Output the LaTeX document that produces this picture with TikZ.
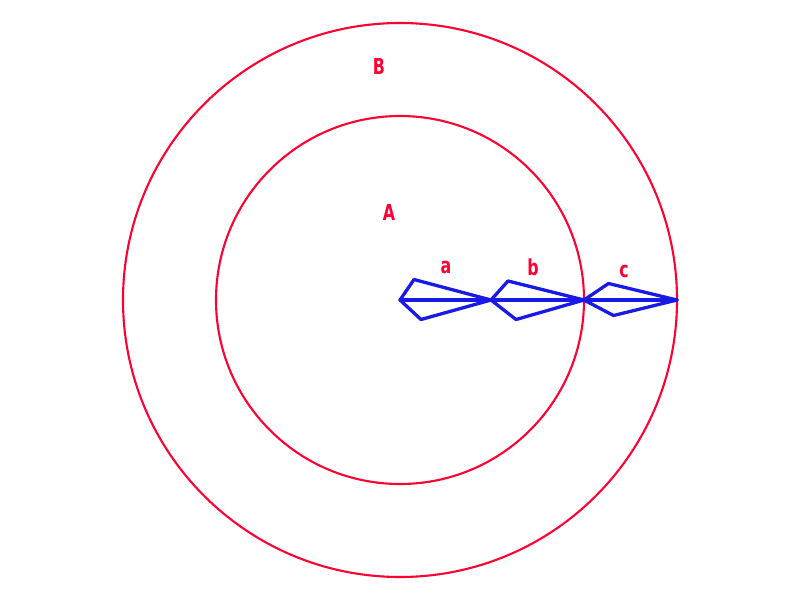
\documentclass[tikz,border=0pt]{standalone}
\usepackage{fontspec}
\newfontfamily\lblfont[FakeStretch=0.8]{DejaVu Sans Condensed}
\definecolor{cred}{RGB}{255,0,51}
\definecolor{cblue}{RGB}{26,26,230}
\begin{document}
\begin{tikzpicture}[x=1pt,y=-1pt,
  circ/.style={draw=cred,line width=2.1pt},
  vec/.style={draw=cblue,line width=3.3pt,line join=round,line cap=round},
  lbl/.style={text=cred,font=\lblfont\bfseries\fontsize{22}{22}\selectfont,inner sep=0pt}]
\useasboundingbox (0,0) rectangle (800,600);
\coordinate (O) at (400,300);
\coordinate (P1) at (491,300);
\coordinate (P2) at (584,300);
\coordinate (P3) at (677,300);
\draw[circ] (O) circle[radius=184];
\draw[circ] (O) circle[radius=277];
% vector a
\coordinate (a1) at (414,279.5);
\coordinate (a2) at (421,319.5);
\draw[vec] (O) -- (a1) -- (P1) -- (a2) -- cycle;
\draw[vec] (O) -- (P1);
% vector b
\coordinate (b1) at (508,281);
\coordinate (b2) at (516,319.5);
\draw[vec] (P1) -- (b1) -- (P2) -- (b2) -- cycle;
\draw[vec] (P1) -- (P2);
% vector c
\coordinate (c1) at (608.5,283.5);
\coordinate (c2) at (613.5,315.5);
\draw[vec] (P2) -- (c1) -- (P3) -- (c2) -- cycle;
\draw[vec] (P2) -- (P3);
\node[lbl] (lB) at (379,66) {B};
\node[lbl] (lA) at (389,212) {A};
\node[lbl] (la) at (446,267) {a};
\node[lbl] (lb) at (533,267) {b};
\node[lbl] (lc) at (624,271) {c};
\end{tikzpicture}
\end{document}
